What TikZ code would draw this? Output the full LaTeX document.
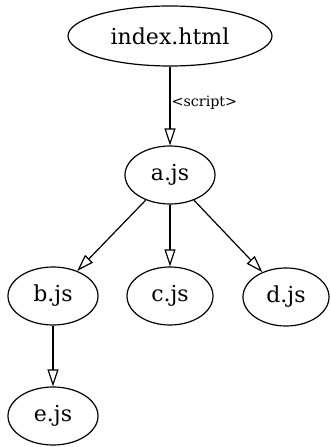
\documentclass[tikz,border=0pt]{standalone}
\usepackage{fontspec}
\setmainfont{DejaVu Serif}
\usetikzlibrary{arrows.meta,shapes.geometric}
\tikzset{
  gnode/.style={draw, ellipse, line width=1.2pt, inner sep=0pt, font=\fontsize{22}{26}\selectfont},
  gedge/.style={draw, line width=1.2pt, -{Triangle[open, length=17pt, width=11pt, line width=1.2pt]}},
  elabel/.style={font=\fontsize{14.3}{17}\selectfont, inner sep=1pt}
}
\begin{document}
\begin{tikzpicture}[x=1pt,y=1pt]
\useasboundingbox (0,0) rectangle (330,447);
\node[gnode, minimum width=204pt, minimum height=60pt] (index) at (170,411) {index.html};
\node[gnode, minimum width=90pt, minimum height=58pt] (a) at (170,272) {a.js};
\node[gnode, minimum width=90pt, minimum height=58pt] (b) at (53,151) {b.js};
\node[gnode, minimum width=86pt, minimum height=58pt] (c) at (170,151) {c.js};
\node[gnode, minimum width=86pt, minimum height=58pt] (d) at (286,150) {d.js};
\node[gnode, minimum width=90pt, minimum height=58pt] (e) at (53,31) {e.js};
\draw[gedge] (index) -- node[elabel, right, pos=0.46] (lbl) {<script>} (a);
\draw[gedge] (a) -- (b);
\draw[gedge] (a) -- (c);
\draw[gedge] (a) -- (d);
\draw[gedge] (b) -- (e);
\end{tikzpicture}
\end{document}
